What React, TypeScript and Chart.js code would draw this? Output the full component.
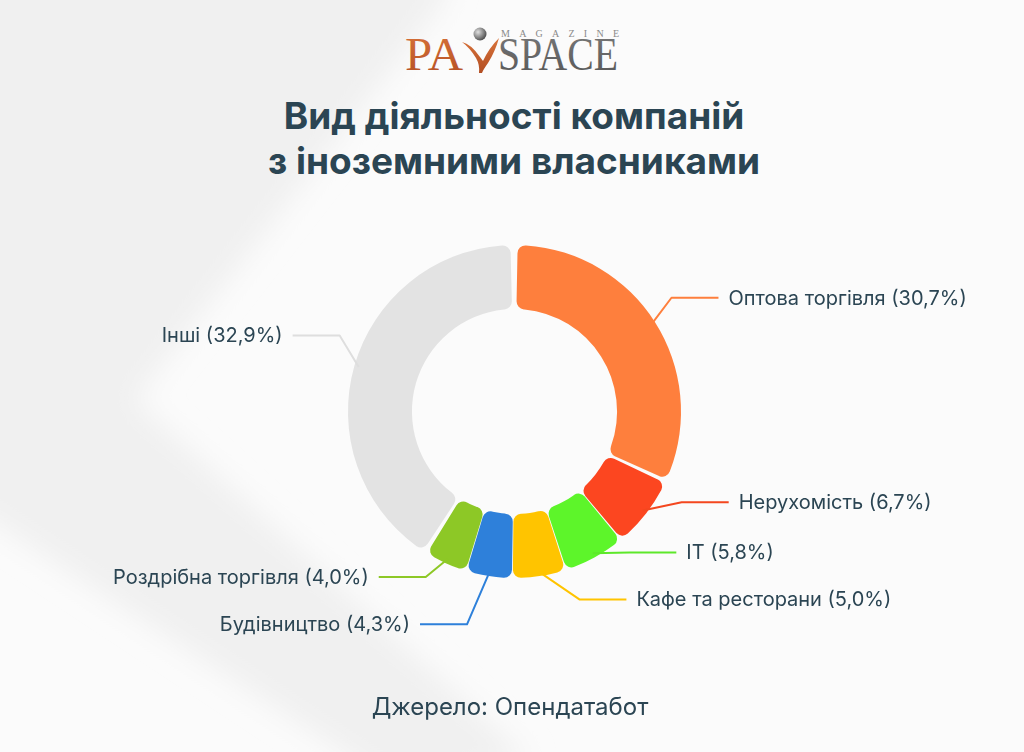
import React, { useEffect, useRef } from "react";
import { Chart, registerables } from "chart.js";

Chart.register(...registerables);

// ---- data ----
const categories = [
  "Оптова торгівля",
  "Нерухомість",
  "IT",
  "Кафе та ресторани",
  "Будівництво",
  "Роздрібна торгівля",
  "Інші",
];
// arc sizes as drawn in the picture (the "Інші" arc fills the rest of the ring)
const shares = [30.7, 6.7, 5.8, 5.0, 4.3, 4.0, 39.5];
// percentages as printed in the labels
const labelPercents = ["30,7%", "6,7%", "5,8%", "5,0%", "4,3%", "4,0%", "32,9%"];

const sliceColors = ["#FE7F3D", "#FC4620", "#5DF52A", "#FFC400", "#2E80DA", "#8DC826", "#E3E3E3"];
const lineColors = ["#FE7F3D", "#F4471F", "#5DE82A", "#FFC400", "#2E80DA", "#8DC826", "#DEDEDE"];

const TEXT_COLOR = "#2B4553";

const calloutPlugin = {
  id: "calloutLabels",
  afterDatasetsDraw(chart: any, _args: any, opts: any) {
    const ctx = chart.ctx;
    const meta = chart.getDatasetMeta(0);
    meta.data.forEach((arc: any, i: number) => {
      const p = arc.getProps(["x", "y", "startAngle", "endAngle", "outerRadius"], true);
      const mid = (p.startAngle + p.endAngle) / 2;
      const c = Math.cos(mid);
      const s = Math.sin(mid);
      const r0 = p.outerRadius - opts.inset;
      const sx = p.x + c * r0;
      const sy = p.y + s * r0;
      const shift = opts.shifts[i] || [0, 0];
      const ex = p.x + c * (p.outerRadius + opts.ext) + shift[0];
      const ey = p.y + s * (p.outerRadius + opts.ext) + shift[1];
      const right = ex >= p.x;
      const dir = right ? 1 : -1;
      const hx = ex + dir * opts.hLen;
      ctx.save();
      ctx.strokeStyle = lineColors[i];
      ctx.lineWidth = 2;
      ctx.lineJoin = "round";
      ctx.beginPath();
      ctx.moveTo(sx, sy);
      ctx.lineTo(ex, ey);
      ctx.lineTo(hx, ey);
      ctx.stroke();
      ctx.font = opts.font;
      ctx.fillStyle = TEXT_COLOR;
      ctx.textAlign = right ? "left" : "right";
      ctx.textBaseline = "middle";
      ctx.fillText(`${categories[i]} (${labelPercents[i]})`, hx + dir * opts.gap, ey + 1);
      ctx.restore();
    });
  },
};

function Background() {
  return (
    <svg width={1024} height={752} style={{ position: "absolute", left: 0, top: 0 }}>
      <defs>
        <filter id="bgblur" x="-20%" y="-20%" width="140%" height="140%">
          <feGaussianBlur stdDeviation="14" />
        </filter>
      </defs>
      <rect x={0} y={0} width={1024} height={752} fill="#FBFBFB" />
      <polygon
        points="-40,-40 450,-40 445,0 135,400 530,760 400,790 -40,500"
        fill="#F0F0F0"
        filter="url(#bgblur)"
      />
    </svg>
  );
}

function Logo() {
  return (
    <svg width={1024} height={90} style={{ position: "absolute", left: 0, top: 0 }}>
      <defs>
        <linearGradient id="og" x1="0" y1="0" x2="0" y2="1">
          <stop offset="0" stopColor="#D9733A" />
          <stop offset="1" stopColor="#B24E23" />
        </linearGradient>
        <linearGradient id="gg" x1="0" y1="0" x2="0" y2="1">
          <stop offset="0" stopColor="#7A7A7A" />
          <stop offset="1" stopColor="#555555" />
        </linearGradient>
        <radialGradient id="ball" cx="0.35" cy="0.35" r="0.7">
          <stop offset="0" stopColor="#E0E0E0" />
          <stop offset="1" stopColor="#4A4A4A" />
        </radialGradient>
      </defs>
      <text
        x={405}
        y={70}
        fontFamily="'Liberation Serif', serif"
        fontSize={46}
        fill="url(#og)"
        textLength={58}
        lengthAdjust="spacingAndGlyphs"
      >
        PA
      </text>
      <path
        d="M462,42 Q471,44 480,57 L483,61 Q489,48 499,38 Q495,52 488,63 Q483,70 482,73 L479,73 Q480,65 476,58 Q470,48 462,42 Z"
        fill="url(#og)"
      />
      <circle cx={480} cy={34} r={6.5} fill="url(#ball)" />
      <text
        x={498}
        y={70}
        fontFamily="'Liberation Serif', serif"
        fontSize={46}
        fill="url(#gg)"
        textLength={120}
        lengthAdjust="spacingAndGlyphs"
      >
        SPACE
      </text>
      <text
        x={501}
        y={37}
        fontFamily="'Liberation Serif', serif"
        fontSize={10}
        fill="#8A8A8A"
        textLength={118}
        lengthAdjust="spacing"
      >
        MAGAZINE
      </text>
    </svg>
  );
}

export default function App() {
  const canvasRef = useRef<HTMLCanvasElement | null>(null);

  useEffect(() => {
    if (!canvasRef.current) return;
    const chart = new Chart(canvasRef.current, {
      type: "doughnut",
      data: {
        labels: categories,
        datasets: [
          {
            data: shares,
            backgroundColor: sliceColors,
            borderWidth: 0,
            borderRadius: 8,
            spacing: 5,
          },
        ],
      },
      options: {
        responsive: false,
        animation: false,
        devicePixelRatio: 1,
        radius: 164,
        cutout: "61%",
        layout: { padding: { left: 314.5, right: 309.5, top: 211.5, bottom: 140.5 } },
        plugins: {
          legend: { display: false },
          tooltip: { enabled: false },
          title: { display: false },
          calloutLabels: {
            inset: 2,
            ext: 22,
            hLen: 47,
            gap: 10,
            font: "20px Inter",
            shifts: [
              [0, -14],
              [20, -23],
              [25, -22],
              [37, 4],
              [-19, 29],
              [-12, -4],
              [4, -25],
            ],
          },
        } as any,
      },
      plugins: [calloutPlugin as any],
    });
    return () => chart.destroy();
  }, []);

  return (
    <div
      style={{
        position: "fixed",
        left: 0,
        top: 0,
        width: 1024,
        height: 752,
        overflow: "hidden",
        fontFamily: "Inter, sans-serif",
      }}
    >
      <Background />
      <Logo />
      <div
        style={{
          position: "absolute",
          left: 0,
          top: 93,
          width: 1028,
          textAlign: "center",
          fontSize: 37,
          lineHeight: "45px",
          fontWeight: 700,
          color: TEXT_COLOR,
        }}
      >
        Вид діяльності компаній
        <br />з іноземними власниками
      </div>
      <canvas
        ref={canvasRef}
        width={1024}
        height={752}
        style={{ position: "absolute", left: 0, top: 0, width: 1024, height: 752 }}
      />
      <div
        style={{
          position: "absolute",
          left: 0,
          top: 692,
          width: 1020,
          textAlign: "center",
          fontSize: 24,
          lineHeight: "30px",
          color: TEXT_COLOR,
        }}
      >
        Джерело: Опендатабот
      </div>
    </div>
  );
}
